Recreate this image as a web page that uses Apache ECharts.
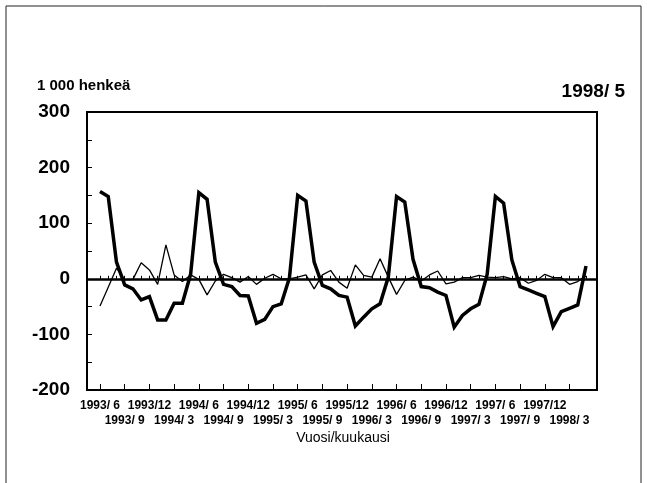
<!DOCTYPE html>
<html>
<head>
<meta charset="utf-8">
<script src="https://cdn.jsdelivr.net/npm/echarts@6/dist/echarts.min.js"></script>
<style>
html,body{margin:0;padding:0;background:#fff;}
#chart{width:647px;height:483px;}
</style>
</head>
<body>
<div id="chart"></div>
<script>
// Months 1993/6 .. 1998/5
var months = [];
(function(){
  var y = 1993, m = 6;
  for (var k = 0; k < 60; k++) {
    months.push(y + '/' + (m < 10 ? ' ' + m : m));
    m++; if (m > 12) { m = 1; y++; }
  }
})();

// Thick line (seasonal component)
var thickValues = [157, 148, 30, -11, -18, -38, -32, -74, -74, -44, -44, 8,
                   155, 143, 30, -10, -14, -30, -31, -80, -73, -50, -45, 2,
                   150, 140, 30, -12, -18, -30, -33, -85, -69, -54, -45, 3,
                   148, 138, 35, -14, -16, -24, -30, -87, -66, -54, -46, 8,
                   148, 136, 34, -14, -20, -26, -32, -86, -59, -53, -47, 23];

// Thin line (irregular component)
var thinValues = [-49, -15, 19, -2, -1, 29, 16, -10, 61, 7, -5, 7,
                  -1, -29, -4, 8, 2, -6, 4, -10, 1, 8, 0, 0,
                  3, 7, -18, 7, 15, -6, -17, 25, 6, 3, 36, 3,
                  -28, -3, 3, -4, 7, 14, -9, -6, 2, 2, 6, 3,
                  2, 4, 0, 2, -8, -3, 8, 2, 2, -10, -5, 5];

var yTicks = [-200, -100, 0, 100, 200, 300];
var titleText = '1998/ 5';
var unitText = '1 000 henkeä';
var xName = 'Vuosi/kuukausi';

var FONT = '"Liberation Sans", Arial, sans-serif';
var chart = echarts.init(document.getElementById('chart'), null, {renderer: 'canvas'});

var labelStyle = {fontFamily: FONT, fontWeight: 'bold', fontSize: 12, color: '#000'};

var option = {
  animation: false,
  backgroundColor: '#fff',
  graphic: [
    {type: 'rect', shape: {x: 6, y: 6, width: 635, height: 490}, style: {fill: 'none', stroke: '#222', lineWidth: 1}, silent: true},
    {type: 'text', x: 625, y: 92, style: {text: titleText, font: 'bold 19px ' + FONT, fill: '#000', textAlign: 'right', textVerticalAlign: 'middle'}},
    {type: 'text', x: 37, y: 86, style: {text: unitText, font: 'bold 15px ' + FONT, fill: '#000', textAlign: 'left', textVerticalAlign: 'middle'}}
  ],
  grid: [
    {left: 87, right: 50, top: 112, bottom: 93, show: true, borderColor: '#000', borderWidth: 2, backgroundColor: 'transparent'},
    {left: 100, right: 61, top: 112, bottom: 93}
  ],
  xAxis: [
    {gridIndex: 0, type: 'value', min: 0, max: 1, show: false},
    {gridIndex: 1, type: 'category', position: 'bottom', data: months, boundaryGap: false,
     axisLine: {show: false},
     axisTick: {show: true, inside: true, length: 3, interval: 0, lineStyle: {color: '#000', width: 1}},
     axisLabel: Object.assign({
       show: true, margin: 10, interval: function (i) { return i % 6 === 0; }
     }, labelStyle),
     splitLine: {show: false},
     name: xName, nameLocation: 'middle', nameGap: 41,
     nameTextStyle: {fontFamily: FONT, fontSize: 14, color: '#000'}
    },
    {gridIndex: 1, type: 'category', position: 'bottom', offset: 0, data: months, boundaryGap: false,
     axisLine: {show: false},
     axisTick: {show: true, inside: true, length: 6, interval: function (i) { return i % 3 === 0; }, lineStyle: {color: '#000', width: 1}},
     axisLabel: Object.assign({
       show: true, margin: 25, interval: function (i) { return i % 6 === 3; }
     }, labelStyle),
     splitLine: {show: false}
    }
  ],
  yAxis: [
    {gridIndex: 0, type: 'value', min: -200, max: 300, interval: 50,
     axisLine: {show: true, lineStyle: {color: '#000', width: 2}},
     axisTick: {show: true, inside: true, length: 5, lineStyle: {color: '#000', width: 1}},
     axisLabel: {margin: 17, fontFamily: FONT, fontWeight: 'bold', fontSize: 19, color: '#000',
       formatter: function (v) { return yTicks.indexOf(v) >= 0 ? String(v) : ''; }},
     splitLine: {show: false}
    },
    {gridIndex: 1, type: 'value', min: -200, max: 300, show: false, splitLine: {show: false}}
  ],
  series: [
    {type: 'line', xAxisIndex: 0, yAxisIndex: 0, data: [], symbol: 'none',
     markLine: {silent: true, symbol: 'none', label: {show: false},
       lineStyle: {color: '#000', width: 2.5, type: 'solid'}, data: [{yAxis: 0}]}},
    {name: 'thin', type: 'line', xAxisIndex: 1, yAxisIndex: 1, data: thinValues, symbol: 'none',
     lineStyle: {color: '#000', width: 1.3}},
    {name: 'thick', type: 'line', xAxisIndex: 1, yAxisIndex: 1, data: thickValues, symbol: 'none',
     lineStyle: {color: '#000', width: 3.5, join: 'miter'}}
  ]
};
chart.setOption(option);
</script>
</body>
</html>
